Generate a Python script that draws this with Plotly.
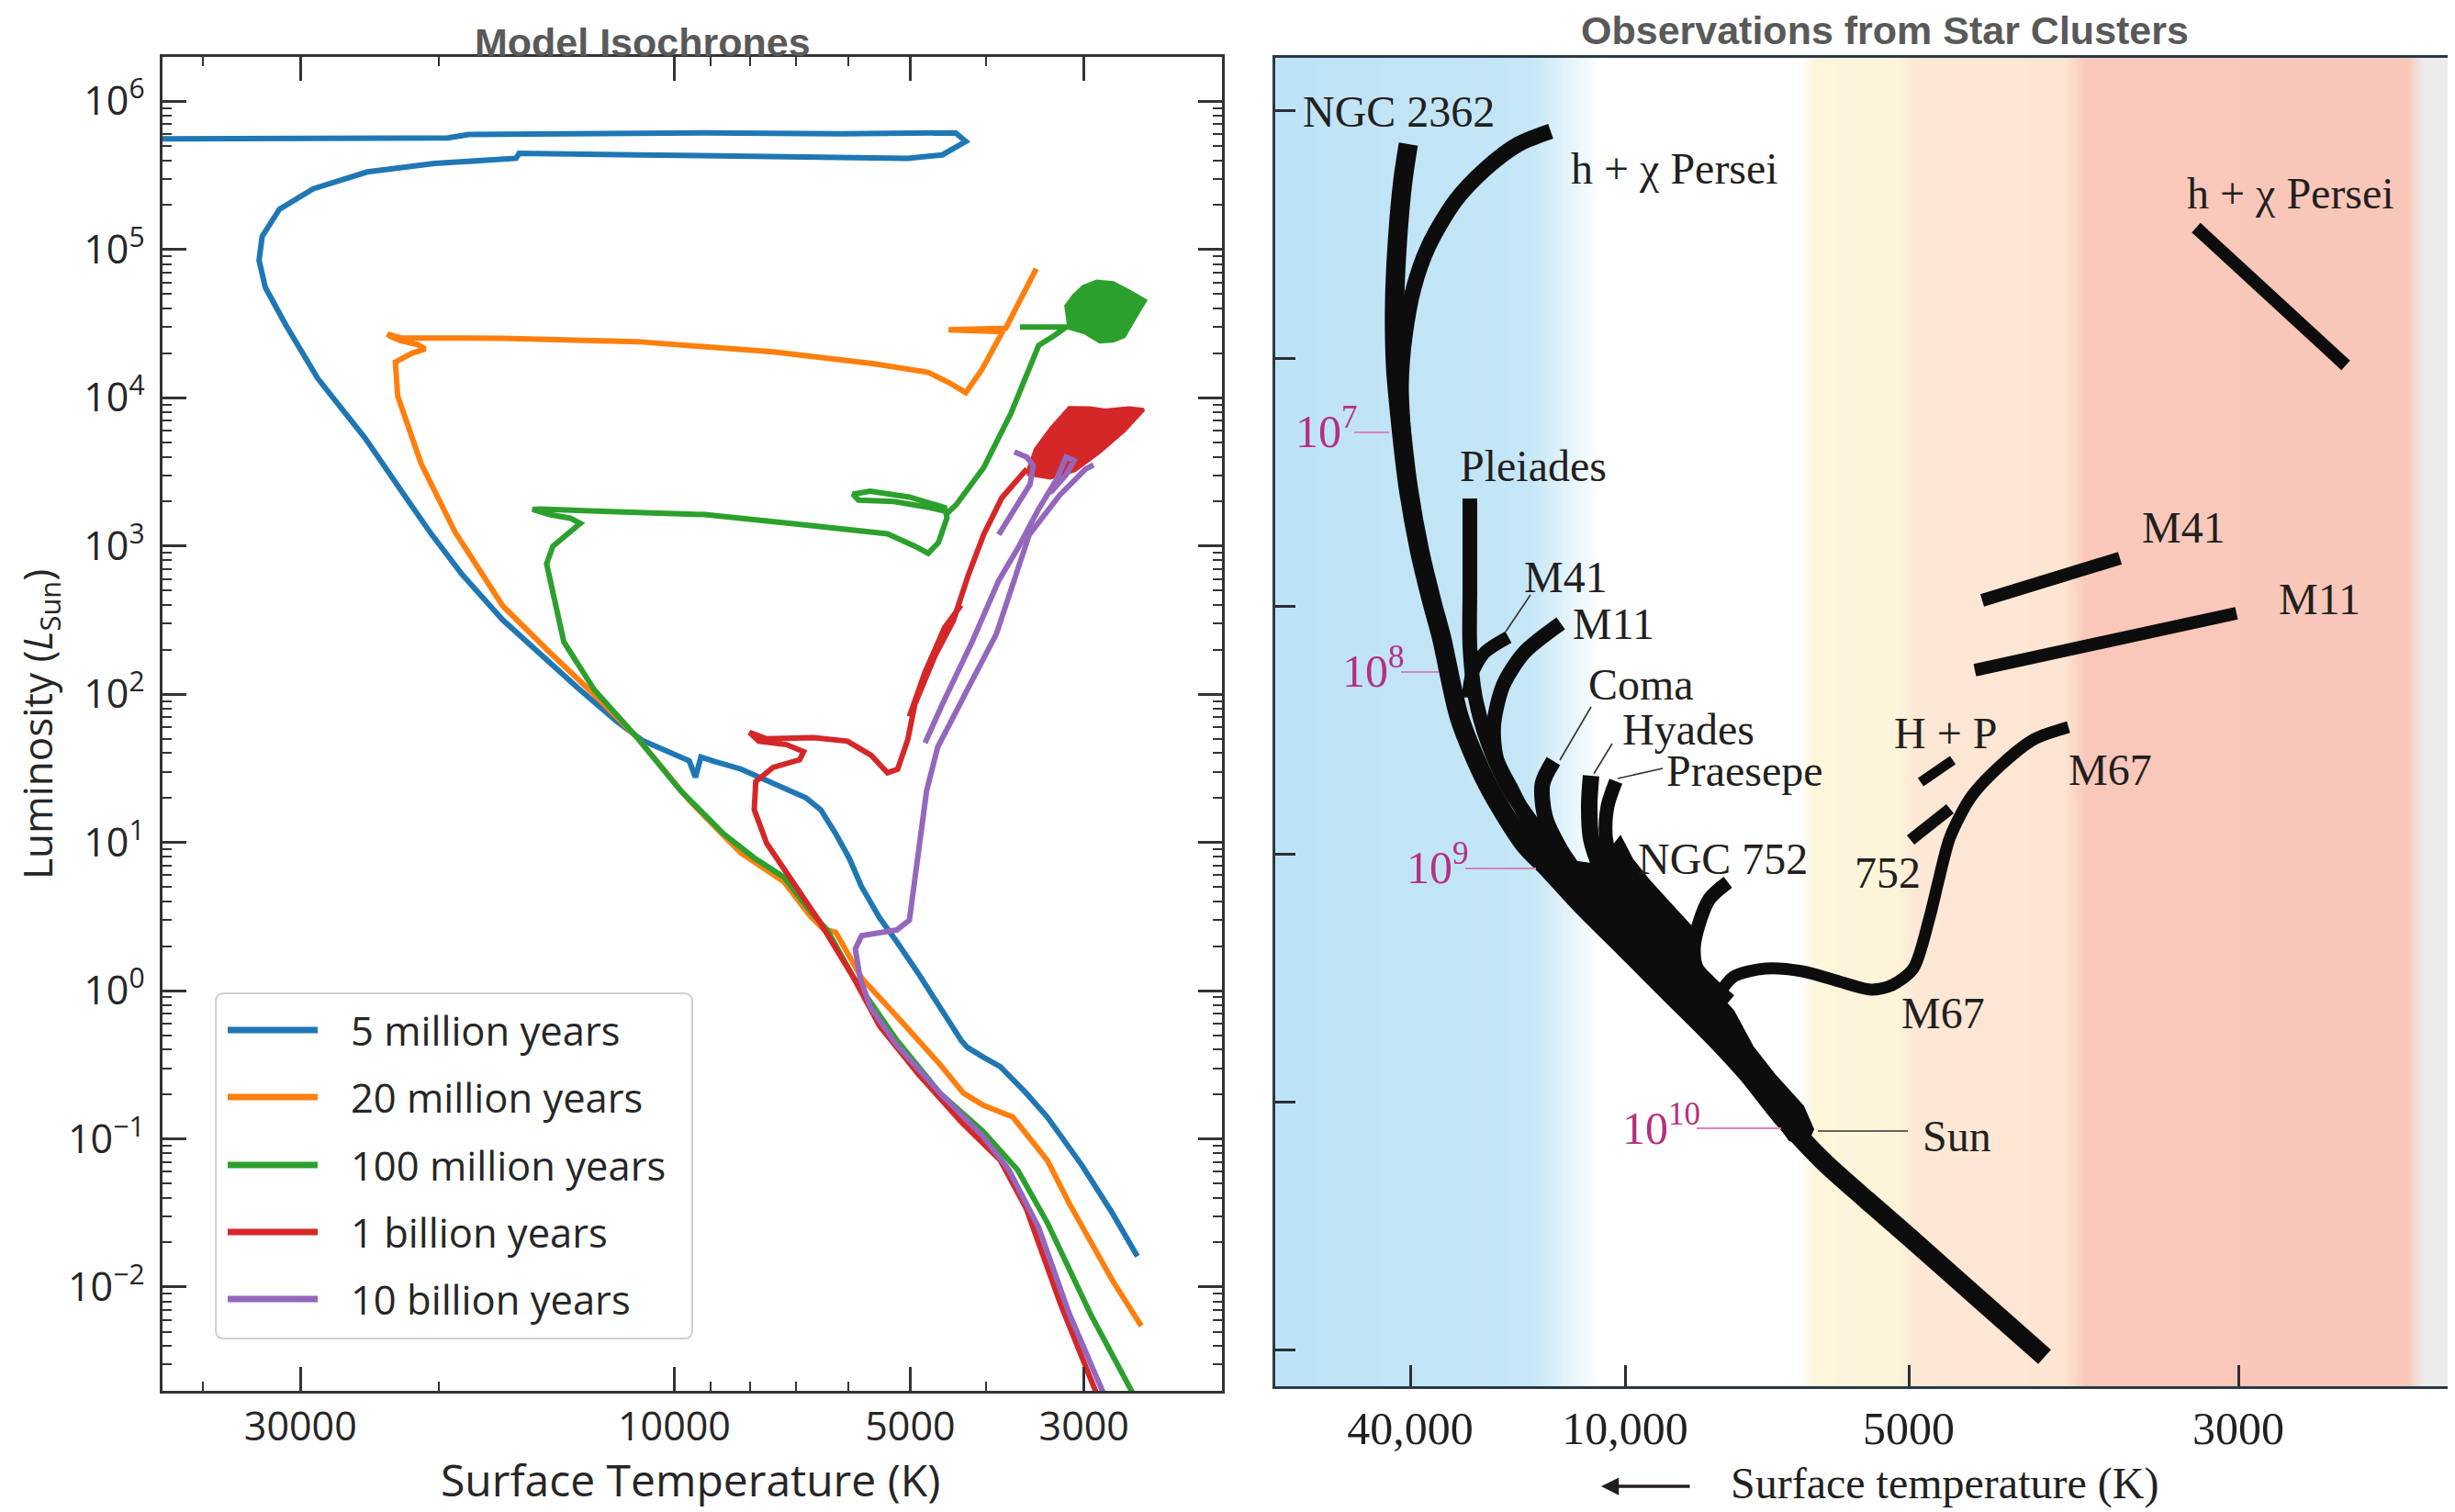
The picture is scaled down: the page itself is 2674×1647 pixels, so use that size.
import numpy as np
import plotly.graph_objects as go

W, H = 2674, 1647          # target screenshot size
OFF = 8                    # default page margin of the html body
FW, FH = W - OFF, H - OFF  # figure size so that it fills the window exactly

# ---------------- Left panel: model isochrones (log10 Teff, log10 L/Lsun) ----------------
iso_names = ["5 million years", "20 million years", "100 million years", "1 billion years", "10 billion years"]
iso_colors = ["#1f77b4", "#ff7f0e", "#2ca02c", "#d62728", "#9467bd"]

blue_logT = [3.409, 3.441, 3.480, 3.524, 3.551, 3.584, 3.606, 3.626, 3.634, 3.661, 3.689, 3.716, 3.738, 3.761,
             3.777, 3.794, 3.813, 3.832, 3.860, 3.887, 3.915, 3.948, 3.966, 3.973, 3.981, 4.041, 4.074, 4.124,
             4.160, 4.219, 4.271, 4.310, 4.335, 4.355, 4.375, 4.395, 4.425, 4.455, 4.496, 4.522, 4.530, 4.526,
             4.504, 4.461, 4.392, 4.306, 4.202, 4.198, 4.047, 3.874, 3.702, 3.658, 3.628, 3.641, 3.788, 3.961,
             4.133, 4.263, 4.289, 4.478, 4.700]
blue_logL = [-1.792, -1.501, -1.177, -0.853, -0.691, -0.513, -0.448, -0.383, -0.335, -0.108, 0.119, 0.329, 0.491,
             0.701, 0.896, 1.058, 1.220, 1.301, 1.365, 1.430, 1.495, 1.545, 1.576, 1.440, 1.550, 1.689, 1.819,
             2.046, 2.220, 2.501, 2.809, 3.080, 3.270, 3.420, 3.570, 3.730, 3.930, 4.130, 4.493, 4.745, 4.928,
             5.089, 5.272, 5.410, 5.524, 5.581, 5.616, 5.650, 5.639, 5.627, 5.616, 5.639, 5.730, 5.788, 5.781,
             5.788, 5.781, 5.776, 5.753, 5.746, 5.746]

orange_logT = [3.404, 3.441, 3.496, 3.524, 3.568, 3.606, 3.631, 3.661, 3.705, 3.738, 3.761, 3.794, 3.810, 3.827,
               3.860, 3.915, 3.981, 4.047, 4.102, 4.157, 4.219, 4.280, 4.323, 4.353, 4.356, 4.335, 4.318, 4.328,
               4.349, 4.362, 4.366, 4.350, 4.219, 4.047, 3.874, 3.745, 3.676, 3.650, 3.628, 3.607, 3.581, 3.650,
               3.577, 3.538]
orange_logL = [-2.262, -1.954, -1.436, -1.144, -0.853, -0.772, -0.691, -0.497, -0.238, -0.043, 0.086, 0.394,
               0.417, 0.507, 0.734, 0.928, 1.284, 1.705, 1.997, 2.272, 2.596, 3.096, 3.554, 4.012, 4.241, 4.300,
               4.330, 4.360, 4.385, 4.413, 4.430, 4.405, 4.402, 4.379, 4.310, 4.230, 4.172, 4.104, 4.035, 4.195,
               4.447, 4.459, 4.470, 4.871]

green_logT = [3.414, 3.469, 3.524, 3.562, 3.606, 3.661, 3.716, 3.771, 3.805, 3.827, 3.860, 3.898, 3.937, 3.992,
              4.047, 4.102, 4.141, 4.159, 4.163, 4.155, 4.133, 4.120, 4.133, 4.159, 4.181, 4.170, 4.099, 3.961,
              3.831, 3.728, 3.693, 3.676, 3.663, 3.652, 3.655, 3.700, 3.750, 3.772, 3.765, 3.720, 3.675, 3.650,
              3.640, 3.605, 3.570, 3.535, 3.515, 3.500, 3.559, 3.496]
green_logL = [-2.725, -2.18, -1.565, -1.209, -0.950, -0.691, -0.335, 0.086, 0.410, 0.540, 0.766, 0.896, 1.058,
              1.349, 1.705, 2.029, 2.353, 2.762, 2.880, 2.999, 3.093, 3.153, 3.188, 3.212, 3.247, 3.250, 3.236,
              3.212, 3.141, 3.082, 2.999, 2.951, 3.022, 3.190, 3.260, 3.330, 3.370, 3.350, 3.310, 3.300, 3.260,
              3.230, 3.280, 3.530, 3.900, 4.353, 4.420, 4.477, 4.477, 4.477]
green_agb_logT = [3.496, 3.500, 3.490, 3.478, 3.461, 3.440, 3.420, 3.399, 3.410, 3.426, 3.440, 3.457, 3.476, 3.496]
green_agb_logL = [4.470, 4.620, 4.690, 4.750, 4.786, 4.775, 4.720, 4.656, 4.560, 4.415, 4.385, 4.378, 4.440, 4.470]

red_logT = [3.461, 3.507, 3.551, 3.584, 3.634, 3.689, 3.738, 3.771, 3.816, 3.849, 3.882, 3.898, 3.896, 3.874,
            3.840, 3.835, 3.857, 3.892, 3.904, 3.883, 3.822, 3.779, 3.749, 3.728, 3.715, 3.702, 3.693, 3.667,
            3.644, 3.625, 3.605, 3.582, 3.550, None, 3.700, 3.680, 3.655, 3.634]
red_logL = [-2.72, -2.116, -1.468, -1.144, -0.885, -0.561, -0.238, 0.086, 0.477, 0.734, 0.993, 1.220, 1.411,
            1.506, 1.558, 1.612, 1.660, 1.683, 1.743, 1.700, 1.707, 1.683, 1.589, 1.470, 1.494, 1.695, 1.932,
            2.264, 2.495, 2.800, 3.080, 3.325, 3.520, None, 1.85, 2.15, 2.45, 2.60]
red_agb_logT = [3.550, 3.539, 3.519, 3.505, 3.496, 3.470, 3.450, 3.420, 3.401, 3.426, 3.457, 3.489, 3.520, 3.550]
red_agb_logL = [3.486, 3.653, 3.796, 3.880, 3.932, 3.930, 3.915, 3.930, 3.920, 3.777, 3.635, 3.510, 3.460, 3.486]

purple_logT = [3.452, 3.496, 3.535, 3.573, 3.606, 3.661, 3.716, 3.750, 3.763, 3.769, 3.761, 3.739, 3.716, 3.700,
               3.694, 3.686, 3.678, 3.664, 3.650, 3.624, 3.589, 3.547, 3.508, 3.475, 3.465, None,
               3.680, 3.658, 3.620, 3.586, 3.560, 3.535, 3.512, 3.500, 3.490, 3.500, 3.520, None,
               3.586, 3.564, 3.546, 3.542, 3.550, 3.566]
purple_logL = [-2.72, -2.18, -1.598, -1.209, -0.982, -0.691, -0.367, -0.108, 0.086, 0.281, 0.371, 0.394, 0.410,
               0.475, 0.734, 1.058, 1.349, 1.641, 1.780, 2.051, 2.406, 3.077, 3.344, 3.520, 3.548, None,
               1.672, 1.932, 2.353, 2.767, 3.000, 3.250, 3.450, 3.600, 3.577, 3.480, 3.360, None,
               3.077, 3.256, 3.416, 3.540, 3.600, 3.635]

temp_ticks = [30000, 10000, 5000, 3000]
temp_minor = [40000, 20000, 9000, 8000, 7000, 6000, 4000]
lum_ticks = [1e-2, 1e-1, 1e0, 1e1, 1e2, 1e3, 1e4, 1e5, 1e6]
lum_ticktext = ["10<sup>\u22122</sup>", "10<sup>\u22121</sup>", "10<sup>0</sup>", "10<sup>1</sup>",
                "10<sup>2</sup>", "10<sup>3</sup>", "10<sup>4</sup>", "10<sup>5</sup>", "10<sup>6</sup>"]

# ---------------- Right panel: schematic cluster sequences (diagram units) ----------------
ms_u = [145, 139, 133, 130, 131, 137, 145, 157, 171, 181, 201, 231, 271, 298, 331, 381, 431, 481, 514, 554,
        597, 644, 690, 761, 838]
ms_v = [1353, 1313, 1246, 1179, 1112, 1045, 978, 911, 853, 816, 727, 656, 591, 563, 527, 477, 427, 377, 341, 291,
        245, 203, 163, 100, 32]
band_u = [255, 261, 288, 321, 371, 421, 471, 504, 544, 560, 578, 586, 575, 545, 520, 499, 479, 472, 459, 456,
          452, 429, 409, 389, 376, 352, 322, 295, 255]
band_v = [600, 591, 563, 527, 477, 427, 377, 341, 291, 268, 262, 280, 305, 338, 370, 409, 431, 441, 456, 477,
          502, 527, 549, 574, 599, 568, 572, 590, 600]
hchi_u = [300, 265, 229, 196, 167, 151, 141, 137, 140]
hchi_v = [1367, 1353, 1326, 1291, 1242, 1197, 1143, 1090, 1030]
pleiades_u = [212, 212, 212, 218, 232, 255, 290]
pleiades_v = [967, 867, 806, 750, 700, 650, 600]
m41_u = [254, 228, 214, 210]
m41_v = [816, 799, 775, 750]
m11_u = [311, 271, 248, 238, 241, 258, 281, 310]
m11_v = [831, 799, 763, 720, 684, 649, 606, 570]
coma_u = [303, 291, 294, 311, 328, 350]
coma_v = [681, 656, 620, 584, 559, 530]
hyades_u = [344, 342, 344, 356, 378, 405]
hyades_v = [665, 633, 597, 562, 528, 495]
praesepe_u = [371, 362, 360, 366]
praesepe_v = [659, 632, 600, 570]
ngc752_u = [493, 473, 461, 456, 459, 472, 495]
ngc752_v = [549, 531, 502, 477, 456, 441, 420]
m67_u = [500, 482, 485, 499, 534, 574, 614, 649, 672, 695, 712, 723, 735, 758, 792, 827, 864]
m67_v = [380, 400, 428, 446, 455, 452, 441, 432, 437, 455, 508, 553, 598, 642, 678, 705, 718]
hp_u, hp_v = [703, 738], [658, 682]
d752_u, d752_v = [692, 735], [595, 629]
hchi_giant_u, hchi_giant_v = [1003, 1166], [1262, 1112]
m41_giant_u, m41_giant_v = [770, 920], [856, 902]
m11_giant_u, m11_giant_v = [762, 1047], [780, 842]

obs_temp_pos = [147, 381, 690, 1049]
obs_temp_text = ["40,000", "10,000", "5000", "3000"]
obs_lum_pos = [40, 310, 580, 850, 1120, 1390]

age_labels = ["10<sup>7</sup>", "10<sup>8</sup>", "10<sup>9</sup>", "10<sup>10</sup>"]
age_line_u = [(86, 124), (137, 178), (207, 284), (459, 551)]
age_line_v = [1039, 778, 564, 281]

cluster_labels = ["NGC 2362", "h + \u03c7 Persei", "Pleiades", "M41", "M11", "Coma", "Hyades", "Praesepe",
                  "NGC 752", "H + P", "752", "M67", "M67", "Sun", "h + \u03c7 Persei", "M41", "M11"]
cluster_label_u = [28, 320, 199, 269, 322, 339, 376, 424, 393, 672, 629, 680, 862, 703, 991, 942, 1091]
cluster_label_v = [1391, 1329, 1005, 884, 833, 767, 718, 673, 577, 714, 562, 410, 674, 276, 1302, 938, 860]

leader_u = [(278, 251), (344, 310), (367, 347), (373, 422), (591, 689)]
leader_v = [(862, 822), (740, 682), (700, 667), (662, 673), (278, 278)]

bg_u = [0, 276, 356, 571, 589, 677, 699, 859, 883, 1233, 1251, 1285]
bg_colors = ["#bee3f6", "#c4e6f6", "#ffffff", "#ffffff", "#fdf6db", "#fdf4da", "#fde7d5", "#fde5d2",
             "#f9c8ba", "#f9c7b9", "#ececec", "#ececec"]


def unlog(a):
    return [None if v is None else 10 ** v for v in a]


def px(x):
    return (x - OFF) / FW


def py(y):
    return 1 - (y - OFF) / FH


fig = go.Figure()

# Right-panel colour background
grid = np.linspace(0, 1285, 643)
fig.add_trace(go.Heatmap(x=grid, y=[0, 1447], z=[grid, grid], zmin=0, zmax=1285,
                         colorscale=[[u / 1285, c] for u, c in zip(bg_u, bg_colors)],
                         showscale=False, hoverinfo="skip", xaxis="x2", yaxis="y2"))

# Left-panel isochrones
series = [(blue_logT, blue_logL), (orange_logT, orange_logL), (green_logT, green_logL),
          (red_logT, red_logL), (purple_logT, purple_logL)]
for (lt, ll), name, col in zip(series, iso_names, iso_colors):
    fig.add_trace(go.Scatter(x=unlog(lt), y=unlog(ll), mode="lines", name=name,
                             line=dict(color=col, width=6), showlegend=False,
                             xaxis="x", yaxis="y", connectgaps=False))
    if col == iso_colors[2]:
        fig.add_trace(go.Scatter(x=unlog(green_agb_logT), y=unlog(green_agb_logL), mode="lines",
                                 fill="toself", fillcolor=col, line=dict(color=col, width=4),
                                 showlegend=False, xaxis="x", yaxis="y"))
    if col == iso_colors[3]:
        fig.add_trace(go.Scatter(x=unlog(red_agb_logT), y=unlog(red_agb_logL), mode="lines",
                                 fill="toself", fillcolor=col, line=dict(color=col, width=4),
                                 showlegend=False, xaxis="x", yaxis="y"))

# Right-panel sequences
black = "#0d0d0d"
fig.add_trace(go.Scatter(x=band_u, y=band_v, mode="lines", fill="toself", fillcolor=black,
                         line=dict(color=black, width=2), showlegend=False, hoverinfo="skip",
                         xaxis="x2", yaxis="y2"))
curves = [(ms_u, ms_v, 21), (hchi_u, hchi_v, 17), (pleiades_u, pleiades_v, 16), (m41_u, m41_v, 14),
          (m11_u, m11_v, 16), (coma_u, coma_v, 17), (hyades_u, hyades_v, 18), (praesepe_u, praesepe_v, 15),
          (ngc752_u, ngc752_v, 15), (m67_u, m67_v, 13), (hp_u, hp_v, 11), (d752_u, d752_v, 13),
          (hchi_giant_u, hchi_giant_v, 14), (m41_giant_u, m41_giant_v, 14), (m11_giant_u, m11_giant_v, 14)]
for cu, cv, w in curves:
    fig.add_trace(go.Scatter(x=cu, y=cv, mode="lines", line=dict(color=black, width=w, shape="spline", smoothing=0.8),
                             showlegend=False, hoverinfo="skip", xaxis="x2", yaxis="y2"))

for (u0, u1), (v0, v1) in zip(leader_u, leader_v):
    fig.add_trace(go.Scatter(x=[u0, u1], y=[v0, v1], mode="lines", line=dict(color="#333333", width=1.6),
                             showlegend=False, hoverinfo="skip", xaxis="x2", yaxis="y2"))
for (u0, u1), v in zip(age_line_u, age_line_v):
    fig.add_trace(go.Scatter(x=[u0, u1], y=[v, v], mode="lines", line=dict(color="#d884b8", width=2.2),
                             showlegend=False, hoverinfo="skip", xaxis="x2", yaxis="y2"))

annotations = []
serif = "Liberation Serif, Times New Roman, serif"
for txt, u, v in zip(cluster_labels, cluster_label_u, cluster_label_v):
    annotations.append(dict(text=txt, x=u, y=v - 3, xref="x2", yref="y2", xanchor="left", yanchor="middle",
                            showarrow=False, font=dict(family=serif, size=48, color="#231f20")))
for txt, (u0, u1), v in zip(age_labels, age_line_u, age_line_v):
    annotations.append(dict(text=txt, x=u0 + 6, y=v + 4, xref="x2", yref="y2", xanchor="right", yanchor="middle",
                            showarrow=False, font=dict(family=serif, size=50, color="#b5307f")))

# Titles
title_font = "Liberation Sans Narrow, Arial Narrow, Liberation Sans, Arial, sans-serif"
annotations.append(dict(text="<b>Model Isochrones</b>", x=px(700), y=py(46), xref="paper", yref="paper",
                        xanchor="center", yanchor="middle", showarrow=False,
                        font=dict(family=title_font, size=43, color="#595959")))
annotations.append(dict(text="<b>Observations from Star Clusters</b>", x=px(2053), y=py(33), xref="paper",
                        yref="paper", xanchor="center", yanchor="middle", showarrow=False,
                        font=dict(family=title_font, size=43, color="#595959")))
# Left axis titles
sans = "Open Sans, Noto Sans, sans-serif"
annotations.append(dict(text="Surface Temperature (K)", x=px(752), y=py(1611), xref="paper", yref="paper",
                        xanchor="center", yanchor="middle", showarrow=False,
                        font=dict(family=sans, size=48, color="#262626")))
annotations.append(dict(text="Luminosity (<i>L</i><sub>Sun</sub>)", x=px(42), y=py(789), xref="paper",
                        yref="paper", xanchor="center", yanchor="middle", textangle=-90, showarrow=False,
                        font=dict(family=sans, size=44, color="#262626")))
# Right axis title with arrow
annotations.append(dict(text="Surface temperature (K)", x=px(2118), y=py(1616), xref="paper", yref="paper",
                        xanchor="center", yanchor="middle", showarrow=False,
                        font=dict(family=serif, size=48, color="#231f20")))
annotations.append(dict(text="", x=px(1744), y=py(1619), xref="paper", yref="paper", showarrow=True,
                        ax=98, ay=0, axref="pixel", ayref="pixel", arrowhead=2, arrowsize=1.1,
                        arrowwidth=3.5, arrowcolor="#231f20"))

# Manual legend (left panel)
shapes = []
lx0, lx1, ly0, ly1, r = 235, 754, 1082, 1458, 9
path = (f"M {px(lx0 + r)},{py(ly0)} L {px(lx1 - r)},{py(ly0)} Q {px(lx1)},{py(ly0)} {px(lx1)},{py(ly0 + r)} "
        f"L {px(lx1)},{py(ly1 - r)} Q {px(lx1)},{py(ly1)} {px(lx1 - r)},{py(ly1)} "
        f"L {px(lx0 + r)},{py(ly1)} Q {px(lx0)},{py(ly1)} {px(lx0)},{py(ly1 - r)} "
        f"L {px(lx0)},{py(ly0 + r)} Q {px(lx0)},{py(ly0)} {px(lx0 + r)},{py(ly0)} Z")
shapes.append(dict(type="path", path=path, xref="paper", yref="paper", fillcolor="rgba(255,255,255,0.85)",
                   line=dict(color="#d0d0d0", width=2), layer="above"))
legend_rows = [1122, 1195, 1269, 1342, 1415]
for name, col, ry in zip(iso_names, iso_colors, legend_rows):
    shapes.append(dict(type="line", x0=px(248), x1=px(346), y0=py(ry), y1=py(ry), xref="paper", yref="paper",
                       line=dict(color=col, width=7), layer="above"))
    annotations.append(dict(text=name, x=px(380), y=py(ry), xref="paper", yref="paper", xanchor="left",
                            yanchor="middle", showarrow=False, font=dict(family=sans, size=43.5, color="#262626")))

lum_minor = [m * 10.0 ** k for k in range(-3, 7) for m in range(2, 10) if 10 ** -2.7 < m * 10.0 ** k < 10 ** 6.3]

axis_col = "#333333"
fig.update_layout(
    width=FW, height=FH, autosize=False, margin=dict(l=0, r=0, t=0, b=0),
    paper_bgcolor="white", plot_bgcolor="white", showlegend=False,
    xaxis=dict(type="log", domain=[px(177), px(1331)], range=[np.log10(45000), np.log10(2000)],
               tickvals=temp_ticks, ticktext=[str(t) for t in temp_ticks], ticks="inside", ticklen=26,
               tickwidth=2.5, tickcolor=axis_col, showline=True, linecolor=axis_col, linewidth=2.5,
               mirror="allticks", showgrid=False, zeroline=False, ticklabelstandoff=0,
               tickfont=dict(family=sans, size=43, color="#262626"),
               minor=dict(tickvals=temp_minor, ticks="inside", ticklen=10, tickwidth=1.5, tickcolor=axis_col,
                          showgrid=False),
               anchor="y"),
    yaxis=dict(type="log", domain=[py(1515), py(62)], range=[-2.70, 6.30], tickvals=lum_ticks,
               ticktext=lum_ticktext, ticks="inside", ticklen=26, tickwidth=2.5, tickcolor=axis_col,
               showline=True, linecolor=axis_col, linewidth=2.5, mirror="allticks", showgrid=False,
               zeroline=False, ticklabelstandoff=8, tickfont=dict(family=sans, size=43, color="#262626"),
               minor=dict(tickvals=lum_minor, ticks="inside", ticklen=10, tickwidth=1.5, tickcolor=axis_col,
                          showgrid=False),
               anchor="x"),
    xaxis2=dict(domain=[px(1389), 1.0], range=[0, 1285], tickvals=obs_temp_pos, ticktext=obs_temp_text,
                ticks="inside", ticklen=23, tickwidth=3, tickcolor="#2a2f35", showline=True, linecolor="#2b3947",
                linewidth=3, mirror=True, showgrid=False, zeroline=False, ticklabelstandoff=0,
                tickfont=dict(family=serif, size=50, color="#231f20"), anchor="y2"),
    yaxis2=dict(domain=[py(1510), py(63)], range=[0, 1447], tickvals=obs_lum_pos, showticklabels=False,
                ticks="inside", ticklen=22, tickwidth=3, tickcolor="#2a2f35", showline=True, linecolor="#2b3947",
                linewidth=3, mirror=False, showgrid=False, zeroline=False, anchor="x2"),
    annotations=annotations, shapes=shapes,
)

fig.write_html("out.html")
